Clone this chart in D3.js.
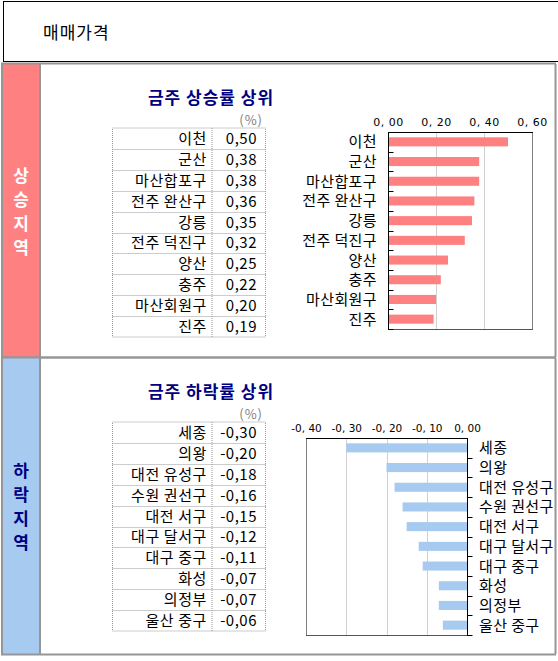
<!DOCTYPE html>
<html>
<head>
<meta charset="utf-8">
<script src="https://cdn.jsdelivr.net/npm/d3@7"></script>
<style>
  body { margin: 0; background: #fff; }
  svg text { font-family: "Noto Sans CJK KR", "Noto Sans", sans-serif; }
</style>
</head>
<body>
<svg id="chart" width="558" height="661"></svg>
<script>
// weekly top risers / fallers (%)
var upNames = ['이천', '군산', '마산합포구', '전주 완산구', '강릉', '전주 덕진구', '양산', '충주', '마산회원구', '진주'];
var upValues = [0.50, 0.38, 0.38, 0.36, 0.35, 0.32, 0.25, 0.22, 0.20, 0.19];
var downNames = ['세종', '의왕', '대전 유성구', '수원 권선구', '대전 서구', '대구 달서구', '대구 중구', '화성', '의정부', '울산 중구'];
var downValues = [-0.30, -0.20, -0.18, -0.16, -0.15, -0.12, -0.11, -0.07, -0.07, -0.06];
var upTicks = [0, 0.2, 0.4, 0.6];
var upTickLabels = ['0, 00', '0, 20', '0, 40', '0, 60'];
var downTicks = [-0.4, -0.3, -0.2, -0.1, 0];
var downTickLabels = ['-0, 40', '-0, 30', '-0, 20', '-0, 10', '0, 00'];

var svg = d3.select('#chart');
var gray = '#969696';

var fmt = function(v) {
  return v.toFixed(2).replace('.', ',');
};

// header box
svg.append('rect').attr('x', 3.5).attr('y', 1.5).attr('width', 560).attr('height', 60)
  .attr('fill', 'none').attr('stroke', '#000').attr('stroke-width', 1);
svg.append('text').attr('x', 43).attr('y', 39).attr('font-size', 17).attr('letter-spacing', 1)
  .attr('fill', '#000').text('매매가격');

// sections
var sections = [
  { top: 64, bottom: 357, color: '#FF8080', label: '상승지역', labelColor: '#fff',
    title: '금주 상승률 상위', names: upNames, values: upValues, side: 'up' },
  { top: 358, bottom: 654, color: '#A6CAF0', label: '하락지역', labelColor: '#000080',
    title: '금주 하락률 상위', names: downNames, values: downValues, side: 'down' }
];

sections.forEach(function(s) {
  var g = svg.append('g');
  g.append('rect').attr('x', 3).attr('y', s.top).attr('width', 36).attr('height', s.bottom - s.top)
    .attr('fill', s.color);
  // strip label, one syllable per line
  var mid = (s.top + s.bottom) / 2;
  s.label.split('').forEach(function(ch, i) {
    g.append('text').attr('x', 21).attr('y', mid + (i - 1.5) * 24 + 7)
      .attr('text-anchor', 'middle').attr('font-size', 17).attr('font-weight', 'bold')
      .attr('fill', s.labelColor).text(ch);
  });
  // outline
  g.append('line').attr('x1', 2).attr('x2', 2).attr('y1', s.top - 1).attr('y2', s.bottom + 1)
    .attr('stroke', gray).attr('stroke-width', 2);
  g.append('line').attr('x1', 40).attr('x2', 40).attr('y1', s.top).attr('y2', s.bottom)
    .attr('stroke', gray).attr('stroke-width', 2);
  g.append('line').attr('x1', 555.5).attr('x2', 555.5).attr('y1', s.top).attr('y2', s.bottom)
    .attr('stroke', gray).attr('stroke-width', 2);
  g.append('line').attr('x1', 1).attr('x2', 556).attr('y1', s.top - 0.5).attr('y2', s.top - 0.5)
    .attr('stroke', gray).attr('stroke-width', 2);
  g.append('line').attr('x1', 1).attr('x2', 556).attr('y1', s.bottom + 0.5).attr('y2', s.bottom + 0.5)
    .attr('stroke', gray).attr('stroke-width', 2);

  // title
  g.append('text').attr('x', 211).attr('y', s.top + 40).attr('text-anchor', 'middle')
    .attr('font-size', 17).attr('letter-spacing', 1).attr('font-weight', 'bold')
    .attr('fill', '#000080').text(s.title);
  g.append('text').attr('x', 263).attr('y', s.top + 61).attr('text-anchor', 'end')
    .attr('font-size', 13).attr('letter-spacing', 1).attr('fill', '#808080').text('(%)');

  // table
  var tTop = s.top + 64;
  var ty = d3.scaleBand().domain(s.names).range([tTop, tTop + 209]);
  var tbl = g.append('g');
  tbl.append('rect').attr('x', 112.5).attr('y', tTop).attr('width', 153).attr('height', 209)
    .attr('fill', 'none').attr('stroke', '#999').attr('stroke-dasharray', '1,1');
  tbl.append('line').attr('x1', 212).attr('x2', 212).attr('y1', tTop).attr('y2', tTop + 209)
    .attr('stroke', '#999').attr('stroke-dasharray', '1,1');
  tbl.selectAll('.row').data(s.names.slice(1)).enter().append('line')
    .attr('x1', 112.5).attr('x2', 265.5)
    .attr('y1', function(d) { return Math.round(ty(d)) + 0.5; })
    .attr('y2', function(d) { return Math.round(ty(d)) + 0.5; })
    .attr('stroke', '#999').attr('stroke-dasharray', '1,1');
  tbl.selectAll('.nm').data(s.names).enter().append('text')
    .attr('x', 207).attr('y', function(d) { return ty(d) + ty.bandwidth() / 2 + 5.5; })
    .attr('text-anchor', 'end').attr('font-size', 15).attr('letter-spacing', 0.6)
    .attr('fill', '#000').text(function(d) { return d; });
  tbl.selectAll('.vl').data(s.values).enter().append('text')
    .attr('x', 257).attr('y', function(d, i) { return ty(s.names[i]) + ty.bandwidth() / 2 + 5.5; })
    .attr('text-anchor', 'end').attr('font-size', 15).attr('letter-spacing', 0.5)
    .attr('fill', '#000').text(fmt);

  // bar chart
  var up = s.side === 'up';
  var pTop = up ? 132 : 438;
  var pH = 197;
  var x = up
    ? d3.scaleLinear().domain([0, 0.6]).range([388, 532])
    : d3.scaleLinear().domain([-0.4, 0]).range([306, 467]);
  var ticks = up ? upTicks : downTicks;
  var tickLabels = up ? upTickLabels : downTickLabels;
  var y = d3.scaleBand().domain(s.names).range([pTop, pTop + pH]);
  var bh = y.bandwidth() * 0.46;
  var c = g.append('g');

  // gridlines
  c.selectAll('.grid').data(ticks.slice(1, -1)).enter().append('line')
    .attr('x1', function(d) { return Math.round(x(d)) + 0.5; })
    .attr('x2', function(d) { return Math.round(x(d)) + 0.5; })
    .attr('y1', pTop).attr('y2', pTop + pH).attr('stroke', '#d0d0d0');

  c.selectAll('.bar').data(s.values).enter().append('rect')
    .attr('x', function(d) { return Math.min(x(0), x(d)); })
    .attr('width', function(d) { return Math.abs(x(d) - x(0)); })
    .attr('y', function(d, i) { return y(s.names[i]) + (y.bandwidth() - bh) / 2; })
    .attr('height', bh)
    .attr('fill', s.color);

  // frame
  var x0 = x.range()[0], x1 = x.range()[1];
  c.append('rect').attr('x', x0 + 0.5).attr('y', pTop + 0.5).attr('width', x1 - x0).attr('height', pH)
    .attr('fill', 'none').attr('stroke', '#808080');
  c.append('line').attr('x1', x0).attr('x2', x1 + 1).attr('y1', pTop + 0.5).attr('y2', pTop + 0.5)
    .attr('stroke', '#000');
  c.append('line').attr('x1', x0).attr('x2', x1 + 1).attr('y1', pTop + pH + 0.5).attr('y2', pTop + pH + 0.5)
    .attr('stroke', '#555');

  // value axis on top
  var xAxis = d3.axisTop(x).tickValues(ticks).tickSize(0).tickPadding(0)
    .tickFormat(function(d, i) { return tickLabels[i]; });
  var xa = c.append('g').attr('transform', 'translate(0,' + (pTop - 6) + ')').call(xAxis);
  xa.select('.domain').remove();
  xa.selectAll('text').attr('font-size', up ? 11 : 10.5).attr('fill', '#000')
    .attr('letter-spacing', up ? 0.5 : 0)
    .style('font-family', '"DejaVu Sans", sans-serif');

  // category axis
  var ax = Math.round(x(0)) + 0.5;
  c.append('line').attr('x1', ax).attr('x2', ax).attr('y1', pTop).attr('y2', pTop + pH + 1)
    .attr('stroke', '#000');
  var bounds = s.names.map(function(d) { return y(d); }).concat([pTop + pH]);
  c.selectAll('.tk').data(bounds.slice(1)).enter().append('line')
    .attr('x1', ax).attr('x2', ax + 5)
    .attr('y1', function(d) { return Math.round(d) + 0.5; })
    .attr('y2', function(d) { return Math.round(d) + 0.5; })
    .attr('stroke', '#000');
  c.selectAll('.cat').data(s.names).enter().append('text')
    .attr('x', up ? 377 : 479)
    .attr('y', function(d) { return y(d) + y.bandwidth() / 2 + 5.5; })
    .attr('text-anchor', up ? 'end' : 'start')
    .attr('font-size', 15).attr('letter-spacing', 0.4)
    .attr('fill', '#000').text(function(d) { return d; });
});
</script>
</body>
</html>
